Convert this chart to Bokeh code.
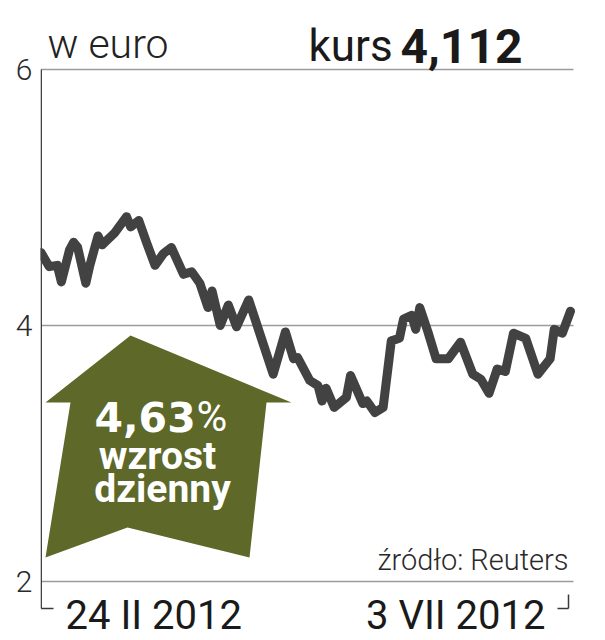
import pandas as pd
from bokeh.plotting import figure
from bokeh.models import Range1d, FixedTicker, Label
from bokeh.embed import file_html
from bokeh.resources import INLINE

# ---- data ----
dates = ["2012-02-24", "2012-02-26", "2012-02-28", "2012-02-29", "2012-03-02", "2012-03-03",
         "2012-03-04", "2012-03-06", "2012-03-07", "2012-03-09", "2012-03-10", "2012-03-11",
         "2012-03-13", "2012-03-16", "2012-03-17", "2012-03-19", "2012-03-21", "2012-03-23",
         "2012-03-25", "2012-03-27", "2012-03-30", "2012-04-01", "2012-04-03", "2012-04-05",
         "2012-04-06", "2012-04-08", "2012-04-10", "2012-04-12", "2012-04-15", "2012-04-18",
         "2012-04-21", "2012-04-24", "2012-04-26", "2012-04-27", "2012-04-30", "2012-05-02",
         "2012-05-03", "2012-05-04", "2012-05-06", "2012-05-09", "2012-05-10", "2012-05-13",
         "2012-05-14", "2012-05-16", "2012-05-18", "2012-05-20", "2012-05-22", "2012-05-23",
         "2012-05-25", "2012-05-26", "2012-05-27", "2012-05-29", "2012-05-31", "2012-06-03",
         "2012-06-06", "2012-06-09", "2012-06-11", "2012-06-13", "2012-06-15", "2012-06-17",
         "2012-06-19", "2012-06-22", "2012-06-25", "2012-06-28", "2012-06-29", "2012-07-01",
         "2012-07-03"]
kurs = [4.57, 4.46, 4.47, 4.34, 4.59, 4.65, 4.61, 4.33, 4.47, 4.70,
        4.63, 4.66, 4.72, 4.85, 4.77, 4.82, 4.64, 4.47, 4.56, 4.61,
        4.40, 4.42, 4.33, 4.14, 4.27, 4.00, 4.16, 3.99, 4.20, 3.91,
        3.62, 3.95, 3.74, 3.75, 3.57, 3.53, 3.41, 3.51, 3.36, 3.44,
        3.61, 3.39, 3.41, 3.32, 3.36, 3.88, 3.90, 4.05, 4.08, 3.97,
        4.14, 3.95, 3.74, 3.74, 3.87, 3.62, 3.58, 3.47, 3.66, 3.64,
        3.94, 3.90, 3.62, 3.74, 3.97, 3.94, 4.112]
y_ticks = [2, 4, 6]
unit_label = "w euro"
kurs_label = "kurs"
kurs_value = "4,112"
change_value = "4,63"
change_unit = "%"
change_words = ["wzrost", "dzienny"]
date_labels = ["24 II 2012", "3 VII 2012"]
source_label = "źródło: Reuters"

# ---- geometry ----
start = pd.Timestamp(dates[0])
days = [(pd.Timestamp(d) - start).days for d in dates]
span_days = days[-1]

W, H = 604, 638
LEFT = 40
X_START_PX, X_END_PX = 40.5, 570.0
PX_PER_DAY = (X_END_PX - X_START_PX) / span_days
Y_TOP_PX, PX_PER_UNIT = 69.0, 128.0


def xd(px):
    return (px - X_START_PX) / PX_PER_DAY


def yd(py):
    return y_ticks[-1] - (py - Y_TOP_PX) / PX_PER_UNIT


p = figure(width=W, height=H, output_backend="svg", toolbar_location=None,
           x_range=Range1d(xd(LEFT), xd(W)),
           y_range=Range1d(yd(H), yd(0)),
           x_axis_location=None, y_axis_location="left",
           min_border_left=LEFT, min_border_right=0, min_border_top=0, min_border_bottom=0)
p.outline_line_color = None
p.background_fill_color = "white"
p.border_fill_color = "white"
p.grid.visible = False

ax = p.yaxis[0]
ax.ticker = FixedTicker(ticks=y_ticks)
ax.axis_line_color = None
ax.major_tick_line_color = None
ax.minor_tick_line_color = None
ax.major_tick_out = 0
ax.major_tick_in = 0
ax.major_label_standoff = 8
ax.major_label_text_font = "Roboto Light"
ax.major_label_text_font_size = "30px"
ax.major_label_text_color = "#2a2a2a"

# horizontal rules
p.segment(x0=[xd(40.5)] * len(y_ticks), y0=y_ticks, x1=[xd(573)] * len(y_ticks), y1=y_ticks,
          line_color="#9c9c9c", line_width=1.5)
# left axis with bracket
p.segment(x0=[xd(40.7), xd(40.7)], y0=[y_ticks[-1], yd(608)], x1=[xd(40.7), xd(53)], y1=[yd(608), yd(608)],
          line_color="#3a3a3a", line_width=1.5)
# right bracket
p.segment(x0=[xd(568), xd(557)], y0=[yd(594), yd(608)], x1=[xd(568), xd(568)], y1=[yd(608), yd(608)],
          line_color="#3a3a3a", line_width=1.5)

# arrow
arrow_px = [(130, 335), (291, 402), (266, 402), (249, 557), (127, 527), (45, 557), (70, 402), (45, 402)]
p.patch([xd(a) for a, b in arrow_px], [yd(b) for a, b in arrow_px], fill_color="#5d6829", line_color=None)

# price line
p.line(days, kurs, line_width=9, line_color="#424242", line_join="round", line_cap="round")

K = 0.3  # baseline correction (fraction of font size)


def lab(px, py, text, font, size, style="normal", color="#1a1a1a", align="left"):
    p.add_layout(Label(x=xd(px), y=yd(py - K * size), text=text, text_font=font,
                       text_font_size=f"{size}px", text_font_style=style, text_color=color,
                       text_align=align, text_baseline="alphabetic"))


lab(47, 56, unit_label, "Roboto Light", 41, color="#222222")
lab(308, 59, kurs_label, "Roboto", 44, color="#1a1a1a")
lab(400, 60, kurs_value, "Roboto", 48, style="bold", color="#1a1a1a")
lab(568, 568, source_label, "Roboto Light", 29, color="#2a2a2a", align="right")
lab(65, 627, date_labels[0], "Roboto", 40, color="#1a1a1a")
lab(545, 627, date_labels[1], "Roboto", 40, color="#1a1a1a", align="right")
lab(94, 429, change_value, "DejaVu Sans", 41, style="bold", color="white")
lab(196, 429, change_unit, "Roboto", 42, color="white")
lab(157, 467, change_words[0], "Roboto", 39, style="bold", color="white", align="center")
lab(162, 500, change_words[1], "Roboto", 39, style="bold", color="white", align="center")

open("out.html", "w").write(file_html(p, INLINE))
